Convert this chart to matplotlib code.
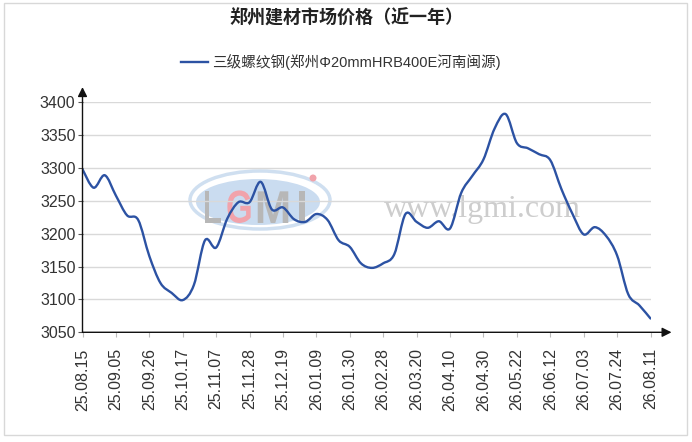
import matplotlib
matplotlib.use('Agg')
import matplotlib.pyplot as plt
from matplotlib.path import Path
from matplotlib.patches import PathPatch, Ellipse, Rectangle
from matplotlib.lines import Line2D
from matplotlib.textpath import TextPath
from matplotlib.font_manager import FontProperties
from matplotlib.transforms import Affine2D
import numpy as np

plt.rcParams['font.family'] = ['Liberation Sans', 'Noto Sans CJK SC', 'DejaVu Sans']

title = "郑州建材市场价格（近一年）"
series_name = "三级螺纹钢(郑州Φ20mmHRB400E河南闽源)"

# weekly-ish samples
prices = [3298, 3270, 3289, 3258, 3228, 3221, 3166, 3125, 3110, 3099,
          3122, 3190, 3179, 3223, 3248, 3248, 3279, 3237, 3240, 3222,
          3218, 3230, 3221, 3190, 3180, 3155, 3148, 3155, 3169, 3230,
          3218, 3209, 3219, 3208, 3262, 3288, 3313, 3360, 3382, 3338,
          3330, 3321, 3312, 3268, 3230, 3199, 3210, 3197, 3167, 3108,
          3091, 3071]

tick_labels = ["25.08.15", "25.09.05", "25.09.26", "25.10.17", "25.11.07",
               "25.11.28", "25.12.19", "26.01.09", "26.01.30", "26.02.28",
               "26.03.20", "26.04.10", "26.04.30", "26.05.22", "26.06.12",
               "26.07.03", "26.07.24", "26.08.11"]

yticks = [3050, 3100, 3150, 3200, 3250, 3300, 3350, 3400]

W, H = 692, 442
fig = plt.figure(figsize=(W / 100, H / 100), dpi=100)
ax = fig.add_axes([82.5 / W, (H - 332.3) / H, 568 / W, 230 / H])
ax.patch.set_alpha(0)

x = np.arange(len(prices))
y = np.array(prices, dtype=float)

# smooth spline-like curve through the points (cubic bezier segments)
pts = np.column_stack([x, y])
verts = [pts[0]]
codes = [Path.MOVETO]
n = len(pts)
for i in range(n - 1):
    p0 = pts[i - 1] if i > 0 else pts[i]
    p1 = pts[i]
    p2 = pts[i + 1]
    p3 = pts[i + 2] if i + 2 < n else pts[i + 1]
    c1 = p1 + (p2 - p0) / 6.0
    c2 = p2 - (p3 - p1) / 6.0
    verts += [c1, c2, p2]
    codes += [Path.CURVE4] * 3
curve = PathPatch(Path(verts, codes), facecolor='none', edgecolor='#2c52a3',
                  lw=1.7, zorder=5, capstyle='round', joinstyle='round')
ax.add_patch(curve)

ax.set_xlim(0, len(prices) - 1)
ax.set_ylim(3050, 3400)
ax.set_yticks(yticks)
ax.set_xticks(np.arange(0, len(prices), 3))
ax.set_xticklabels(tick_labels, rotation=90)
ax.tick_params(axis='both', labelsize=11.5, colors='#333333', length=3.5,
               width=0.8, direction='out')
ax.tick_params(axis='x', pad=8, color='#bbbbbb')
ax.tick_params(axis='y', pad=1.5, color='#555555')
ax.set_axisbelow('line')
ax.grid(axis='y', color='#d9d9d9', lw=1.0)
for s in ax.spines.values():
    s.set_visible(False)

# axes with arrows
ax.annotate('', xy=(0, 1.066), xytext=(0, 0), xycoords='axes fraction',
            arrowprops=dict(arrowstyle='-|>', color='#111111', lw=1.0,
                            mutation_scale=14, shrinkA=0, shrinkB=0),
            annotation_clip=False, zorder=6)
ax.annotate('', xy=(1.037, 0), xytext=(0, 0), xycoords='axes fraction',
            arrowprops=dict(arrowstyle='-|>', color='#111111', lw=1.0,
                            mutation_scale=14, shrinkA=0, shrinkB=0),
            annotation_clip=False, zorder=6)

# watermark (pixel positions -> figure)
def fx(px):
    return px / W

def fy(py):
    return 1 - py / H

px_trans = Affine2D().scale(1 / 100.0) + fig.dpi_scale_trans

ax.add_patch(Ellipse((fx(260), fy(200)), 140 / W, 58 / H,
                     transform=fig.transFigure, facecolor='none',
                     edgecolor='#cfdff0', lw=2.5, zorder=1, clip_on=False))
ax.add_patch(Ellipse((fx(258), fy(202)), 124 / W, 46 / H,
                     transform=fig.transFigure, facecolor='#cadcf0',
                     edgecolor='none', zorder=1, clip_on=False))
logo_font = FontProperties(family='Liberation Sans', weight='bold')
for ch, cx, sx, col in [("L", 213, 0.72, '#b7b7b7'), ("G", 239, 0.75, '#f1a3ab'),
                        ("M", 273, 0.95, '#b7b7b7'), ("I", 302, 0.8, '#b7b7b7')]:
    tp = TextPath((0, 0), ch, size=46, prop=logo_font)
    ext = tp.get_extents()
    t = Affine2D().translate(-(ext.x0 + ext.x1) / 2, -ext.y0).scale(sx, 1) \
        .translate(cx, H - 223)
    ax.add_patch(PathPatch(t.transform_path(tp), transform=px_trans,
                           facecolor=col, edgecolor='none', zorder=1.2,
                           clip_on=False))
ax.add_patch(Ellipse((fx(313), fy(178)), 7 / W, 7 / H,
                     transform=fig.transFigure, facecolor='#f1a3ab',
                     edgecolor='none', zorder=1.2, clip_on=False))
ax.text(fx(482), fy(210), "www.lgmi.com", ha='center', va='center',
        transform=fig.transFigure, fontsize=23, color='#cdcdcd',
        family='Liberation Serif', zorder=1.2)

# title and legend
fig.text(fx(346), fy(18), title, ha='center', va='center', fontsize=13,
         fontweight='bold', color='#222222', family=['Noto Sans CJK SC'])
handle = Line2D([], [], color='#2c52a3', lw=1.7)
leg = fig.legend([handle], [series_name], loc='center',
                 bbox_to_anchor=(fx(341), fy(62)), frameon=False,
                 fontsize=10.5, handlelength=1.8, handletextpad=0.3)
for t in leg.get_texts():
    t.set_color('#333333')

# outer frame
fig.patches.append(Rectangle((fx(4), fy(435)), 683 / W, 432 / H,
                             transform=fig.transFigure, facecolor='none',
                             edgecolor='#d8d8d8', lw=1.0))

fig.savefig('out.png', dpi=100)
